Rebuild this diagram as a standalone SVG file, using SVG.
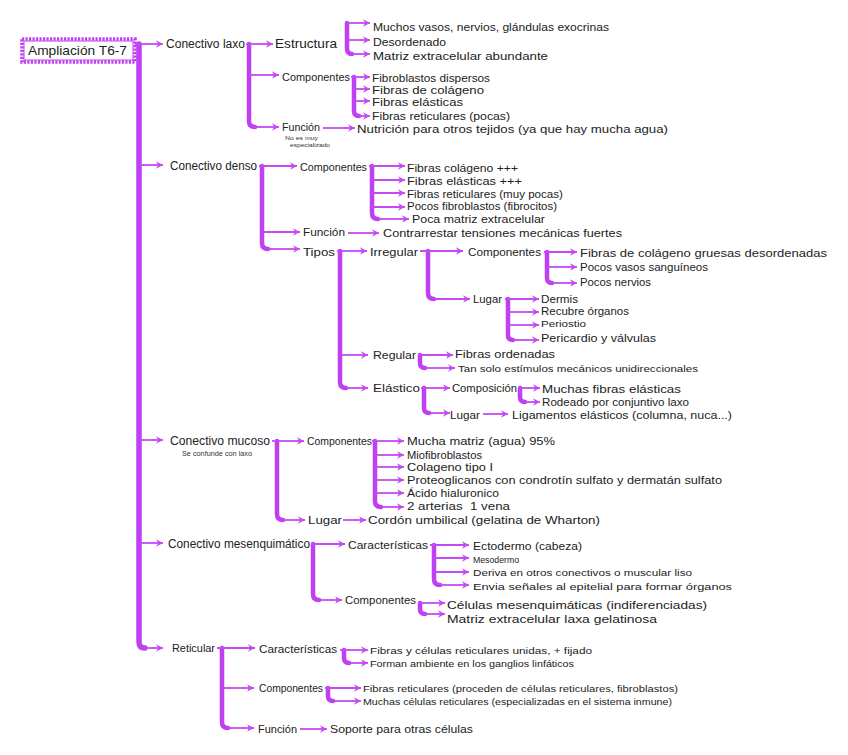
<svg xmlns="http://www.w3.org/2000/svg" width="848" height="755" viewBox="0 0 848 755">
<defs>
<marker id="ah" markerUnits="userSpaceOnUse" markerWidth="9" markerHeight="9" refX="7" refY="4" orient="auto">
<path d="M0,0.3 L7,4 L0,7.7 L2.2,4 z" fill="#c44af2"/>
</marker>
<style>
text{font-family:"Liberation Sans",Arial,sans-serif;font-size:10.5px;fill:#222;}
.lb{font-size:11.5px;}
.l1{font-size:12px;}
.xs{font-size:9.5px;}
.tiny{font-size:6px;fill:#333;}
.title{font-size:13px;}
.bar{stroke:#bf3ff3;stroke-width:4.5;fill:none;stroke-linecap:round;}
.main{stroke-width:5.5;}
.arr{stroke:#c44af2;stroke-width:1.8;fill:none;marker-end:url(#ah);}
</style>
</defs>
<rect width="848" height="755" fill="#fff"/>
<g id="connectors">
<path class="bar main" d="M139,44 V642 Q139,648 145,648"/>
<path class="arr" d="M135,44 H163"/><path class="arr" d="M139,165 H163"/><path class="arr" d="M139,440 H163"/><path class="arr" d="M139,543 H163"/><path class="arr" d="M145,648 H163"/>
<path class="bar" d="M249,44 V121 Q249,127 255,127"/>
<path class="arr" d="M246,44 H273"/><path class="arr" d="M249,75 H279"/><path class="arr" d="M255,127 H279"/>
<path class="bar" d="M347,23 V48 Q347,54 352,54"/>
<path class="arr" d="M347,23 H370"/><path class="arr" d="M347,40 H370"/><path class="arr" d="M352,54 H370"/>
<path class="bar" d="M354,77 V111 Q354,116 359,116"/>
<path class="arr" d="M351,77 H370"/><path class="arr" d="M354,89 H370"/><path class="arr" d="M354,101 H370"/><path class="arr" d="M359,116 H370"/>
<path class="arr" d="M323,128 H355"/>
<path class="bar" d="M262,166 V243 Q262,249 268,249"/>
<path class="arr" d="M259,166 H297"/><path class="arr" d="M262,232 H300"/><path class="arr" d="M268,249 H300"/>
<path class="bar" d="M372,166 V213 Q372,219 378,219"/>
<path class="arr" d="M369,166 H405"/><path class="arr" d="M372,180 H405"/><path class="arr" d="M372,193 H405"/><path class="arr" d="M372,207 H405"/><path class="arr" d="M378,219 H409"/>
<path class="arr" d="M348,233 H379"/>
<path class="bar" d="M340,251 V382 Q340,388 346,388"/>
<path class="arr" d="M337,251 H367"/><path class="arr" d="M340,355 H368"/><path class="arr" d="M346,388 H368"/>
<path class="bar" d="M428,251 V293 Q428,299 434,299"/>
<path class="arr" d="M420,251 H463"/><path class="arr" d="M434,299 H470"/>
<path class="bar" d="M547,252 V278 Q547,283 552,283"/>
<path class="arr" d="M544,252 H577"/><path class="arr" d="M547,267 H577"/><path class="arr" d="M552,283 H577"/>
<path class="bar" d="M508,299 V335 Q508,340 513,340"/>
<path class="arr" d="M505,299 H539"/><path class="arr" d="M508,312 H539"/><path class="arr" d="M508,325 H539"/><path class="arr" d="M513,340 H539"/>
<path class="bar" d="M420,355 V363 Q420,368 425,368"/>
<path class="arr" d="M418,355 H453"/><path class="arr" d="M425,368 H455"/>
<path class="bar" d="M424,388 V408 Q424,413 429,413"/>
<path class="arr" d="M421,388 H450"/><path class="arr" d="M429,413 H450"/>
<path class="bar" d="M520,388 V397 Q520,402 525,402"/>
<path class="arr" d="M518,388 H540"/><path class="arr" d="M525,402 H540"/>
<path class="arr" d="M483,414 H508"/>
<path class="bar" d="M277,441 V514 Q277,520 283,520"/>
<path class="arr" d="M272,441 H304"/><path class="arr" d="M283,520 H305"/>
<path class="bar" d="M375,441 V501 Q375,507 381,507"/>
<path class="arr" d="M372,441 H404"/><path class="arr" d="M375,455 H404"/><path class="arr" d="M375,467 H404"/><path class="arr" d="M375,480 H404"/><path class="arr" d="M375,493 H404"/><path class="arr" d="M381,507 H404"/>
<path class="arr" d="M343,520 H366"/>
<path class="bar" d="M313,544 V594 Q313,600 319,600"/>
<path class="arr" d="M311,544 H345"/><path class="arr" d="M319,600 H342"/>
<path class="bar" d="M434,545 V579 Q434,585 440,585"/>
<path class="arr" d="M430,545 H469"/><path class="arr" d="M434,558 H469"/><path class="arr" d="M434,572 H469"/><path class="arr" d="M440,585 H469"/>
<path class="bar" d="M420,603 V609 Q420,614 425,614"/>
<path class="arr" d="M418,603 H445"/><path class="arr" d="M425,614 H445"/>
<path class="bar" d="M222,648 V722 Q222,728 228,728"/>
<path class="arr" d="M217,648 H255"/><path class="arr" d="M222,688 H254"/><path class="arr" d="M228,728 H254"/>
<path class="bar" d="M344,650 V658 Q344,663 349,663"/>
<path class="arr" d="M340,650 H368"/><path class="arr" d="M349,663 H368"/>
<path class="bar" d="M328,688 V696 Q328,701 333,701"/>
<path class="arr" d="M325,688 H361"/><path class="arr" d="M333,701 H361"/>
<path class="arr" d="M300,729 H327"/>
</g>
<g id="n-title">
<rect x="22" y="39" width="113" height="23" fill="#fff" stroke="#c040f0" stroke-width="3.5" stroke-dasharray="2.2 1.3"/>
<rect x="24" y="41" width="109" height="19" fill="none" stroke="#c040f0" stroke-width="1"/>
<text class="title" x="28" y="55" textLength="99" lengthAdjust="spacingAndGlyphs">Ampliación T6-7</text>
</g>
<g id="n-laxo"><text class="l1" x="166" y="48" textLength="79" lengthAdjust="spacingAndGlyphs">Conectivo laxo</text></g>
<g id="n-laxo-estructura"><text class="l1" x="275" y="48" textLength="62" lengthAdjust="spacingAndGlyphs">Estructura</text></g>
<g id="n-laxo-componentes"><text class="lb" x="282" y="81" textLength="68" lengthAdjust="spacingAndGlyphs">Componentes</text></g>
<g id="n-laxo-funcion"><text class="lb" x="282" y="131" textLength="38" lengthAdjust="spacingAndGlyphs">Función</text>
<text class="tiny" x="285" y="139.5" textLength="33" lengthAdjust="spacingAndGlyphs">No es muy</text>
<text class="tiny" x="290" y="147" textLength="40" lengthAdjust="spacingAndGlyphs">especializado</text></g>
<g id="n-e1"><text x="373" y="31" textLength="236" lengthAdjust="spacingAndGlyphs">Muchos vasos, nervios, glándulas exocrinas</text></g>
<g id="n-e2"><text x="373" y="46" textLength="73" lengthAdjust="spacingAndGlyphs">Desordenado</text></g>
<g id="n-e3"><text x="373" y="60" textLength="175" lengthAdjust="spacingAndGlyphs">Matriz extracelular abundante</text></g>
<g id="n-c1"><text x="372" y="82" textLength="118" lengthAdjust="spacingAndGlyphs">Fibroblastos dispersos</text></g>
<g id="n-c2"><text x="372" y="94" textLength="112" lengthAdjust="spacingAndGlyphs">Fibras de colágeno</text></g>
<g id="n-c3"><text x="372" y="106" textLength="91" lengthAdjust="spacingAndGlyphs">Fibras elásticas</text></g>
<g id="n-c4"><text x="372" y="120" textLength="138" lengthAdjust="spacingAndGlyphs">Fibras reticulares (pocas)</text></g>
<g id="n-f1"><text class="lb" x="357" y="133" textLength="311" lengthAdjust="spacingAndGlyphs">Nutrición para otros tejidos (ya que hay mucha agua)</text></g>
<g id="n-denso"><text class="l1" x="170" y="170" textLength="87" lengthAdjust="spacingAndGlyphs">Conectivo denso</text></g>
<g id="n-denso-componentes"><text class="lb" x="300" y="171" textLength="67" lengthAdjust="spacingAndGlyphs">Componentes</text></g>
<g id="n-d1"><text x="407" y="172" textLength="111" lengthAdjust="spacingAndGlyphs">Fibras colágeno +++</text></g>
<g id="n-d2"><text x="407" y="185" textLength="115" lengthAdjust="spacingAndGlyphs">Fibras elásticas +++</text></g>
<g id="n-d3"><text x="407" y="198" textLength="156" lengthAdjust="spacingAndGlyphs">Fibras reticulares (muy pocas)</text></g>
<g id="n-d4"><text x="407" y="210" textLength="150" lengthAdjust="spacingAndGlyphs">Pocos fibroblastos (fibrocitos)</text></g>
<g id="n-d5"><text x="412" y="223" textLength="133" lengthAdjust="spacingAndGlyphs">Poca matriz extracelular</text></g>
<g id="n-denso-funcion"><text class="lb" x="303" y="236" textLength="42" lengthAdjust="spacingAndGlyphs">Función</text></g>
<g id="n-df"><text class="lb" x="383" y="237" textLength="239" lengthAdjust="spacingAndGlyphs">Contrarrestar tensiones mecánicas fuertes</text></g>
<g id="n-tipos"><text class="lb" x="303" y="256" textLength="32" lengthAdjust="spacingAndGlyphs">Tipos</text></g>
<g id="n-irregular"><text class="lb" x="370" y="256" textLength="48" lengthAdjust="spacingAndGlyphs">Irregular</text></g>
<g id="n-irr-componentes"><text class="lb" x="468" y="256" textLength="73" lengthAdjust="spacingAndGlyphs">Componentes</text></g>
<g id="n-ic1"><text x="580" y="257" textLength="247" lengthAdjust="spacingAndGlyphs">Fibras de colágeno gruesas desordenadas</text></g>
<g id="n-ic2"><text x="580" y="271" textLength="128" lengthAdjust="spacingAndGlyphs">Pocos vasos sanguíneos</text></g>
<g id="n-ic3"><text x="580" y="286" textLength="71" lengthAdjust="spacingAndGlyphs">Pocos nervios</text></g>
<g id="n-irr-lugar"><text class="lb" x="473" y="303" textLength="29" lengthAdjust="spacingAndGlyphs">Lugar</text></g>
<g id="n-il1"><text x="541" y="303" textLength="37" lengthAdjust="spacingAndGlyphs">Dermis</text></g>
<g id="n-il2"><text x="541" y="315" textLength="88" lengthAdjust="spacingAndGlyphs">Recubre órganos</text></g>
<g id="n-il3"><text class="xs" x="541" y="327" textLength="45" lengthAdjust="spacingAndGlyphs">Periostio</text></g>
<g id="n-il4"><text x="541" y="342" textLength="115" lengthAdjust="spacingAndGlyphs">Pericardio y válvulas</text></g>
<g id="n-regular"><text class="lb" x="373" y="359" textLength="43" lengthAdjust="spacingAndGlyphs">Regular</text></g>
<g id="n-r1"><text x="455" y="358" textLength="100" lengthAdjust="spacingAndGlyphs">Fibras ordenadas</text></g>
<g id="n-r2"><text class="xs" x="458" y="372" textLength="240" lengthAdjust="spacingAndGlyphs">Tan solo estímulos mecánicos unidireccionales</text></g>
<g id="n-elastico"><text class="lb" x="373" y="392" textLength="47" lengthAdjust="spacingAndGlyphs">Elástico</text></g>
<g id="n-composicion"><text class="lb" x="452" y="392" textLength="65" lengthAdjust="spacingAndGlyphs">Composición</text></g>
<g id="n-co1"><text x="542" y="393" textLength="139" lengthAdjust="spacingAndGlyphs">Muchas fibras elásticas</text></g>
<g id="n-co2"><text x="542" y="406" textLength="147" lengthAdjust="spacingAndGlyphs">Rodeado por conjuntivo laxo</text></g>
<g id="n-el-lugar"><text class="lb" x="450" y="419" textLength="30" lengthAdjust="spacingAndGlyphs">Lugar</text></g>
<g id="n-ell"><text x="512" y="419" textLength="220" lengthAdjust="spacingAndGlyphs">Ligamentos elásticos (columna, nuca...)</text></g>
<g id="n-mucoso"><text class="l1" x="170" y="445" textLength="100" lengthAdjust="spacingAndGlyphs">Conectivo mucoso</text>
<text class="tiny" x="182" y="456" textLength="70" lengthAdjust="spacingAndGlyphs" style="font-size:6.5px">Se confunde con laxo</text></g>
<g id="n-muc-componentes"><text class="lb" x="307" y="445" textLength="65" lengthAdjust="spacingAndGlyphs">Componentes</text></g>
<g id="n-m1"><text x="407" y="445" textLength="148" lengthAdjust="spacingAndGlyphs">Mucha matriz (agua) 95%</text></g>
<g id="n-m2"><text x="407" y="459" textLength="75" lengthAdjust="spacingAndGlyphs">Miofibroblastos</text></g>
<g id="n-m3"><text x="407" y="471" textLength="86" lengthAdjust="spacingAndGlyphs">Colageno tipo I</text></g>
<g id="n-m4"><text x="407" y="484" textLength="315" lengthAdjust="spacingAndGlyphs">Proteoglicanos con condrotín sulfato y dermatán sulfato</text></g>
<g id="n-m5"><text x="407" y="497" textLength="92" lengthAdjust="spacingAndGlyphs">Ácido hialuronico</text></g>
<g id="n-m6"><text x="407" y="510" textLength="103" lengthAdjust="spacingAndGlyphs" xml:space="preserve">2 arterias  1 vena</text></g>
<g id="n-muc-lugar"><text class="lb" x="308" y="524" textLength="34" lengthAdjust="spacingAndGlyphs">Lugar</text></g>
<g id="n-ml"><text class="lb" x="368" y="524" textLength="232" lengthAdjust="spacingAndGlyphs">Cordón umbilical (gelatina de Wharton)</text></g>
<g id="n-mes"><text class="l1" x="168" y="548" textLength="142" lengthAdjust="spacingAndGlyphs">Conectivo mesenquimático</text></g>
<g id="n-mes-caracteristicas"><text class="lb" x="348" y="549" textLength="80" lengthAdjust="spacingAndGlyphs">Características</text></g>
<g id="n-mc1"><text x="473" y="550" textLength="109" lengthAdjust="spacingAndGlyphs">Ectodermo (cabeza)</text></g>
<g id="n-mc2"><text class="xs" x="473" y="563" textLength="46" lengthAdjust="spacingAndGlyphs">Mesodermo</text></g>
<g id="n-mc3"><text class="xs" x="473" y="576" textLength="219" lengthAdjust="spacingAndGlyphs">Deriva en otros conectivos o muscular liso</text></g>
<g id="n-mc4"><text class="xs" x="473" y="590" textLength="259" lengthAdjust="spacingAndGlyphs">Envia señales al epitelial para formar órganos</text></g>
<g id="n-mes-componentes"><text class="lb" x="345" y="604" textLength="71" lengthAdjust="spacingAndGlyphs">Componentes</text></g>
<g id="n-mp1"><text x="447" y="609" textLength="260" lengthAdjust="spacingAndGlyphs">Células mesenquimáticas (indiferenciadas)</text></g>
<g id="n-mp2"><text x="447" y="623" textLength="210" lengthAdjust="spacingAndGlyphs">Matriz extracelular laxa gelatinosa</text></g>
<g id="n-reticular"><text class="lb" x="172" y="652" textLength="43" lengthAdjust="spacingAndGlyphs">Reticular</text></g>
<g id="n-ret-caracteristicas"><text class="lb" x="259" y="653" textLength="78" lengthAdjust="spacingAndGlyphs">Características</text></g>
<g id="n-rc1"><text class="xs" x="370" y="654" textLength="222" lengthAdjust="spacingAndGlyphs">Fibras y células reticulares unidas, + fijado</text></g>
<g id="n-rc2"><text class="xs" x="370" y="667" textLength="204" lengthAdjust="spacingAndGlyphs">Forman ambiente en los ganglios linfáticos</text></g>
<g id="n-ret-componentes"><text class="lb" x="259" y="692" textLength="64" lengthAdjust="spacingAndGlyphs">Componentes</text></g>
<g id="n-rp1"><text class="xs" x="363" y="692" textLength="315" lengthAdjust="spacingAndGlyphs">Fibras reticulares (proceden de células reticulares, fibroblastos)</text></g>
<g id="n-rp2"><text class="xs" x="363" y="705" textLength="309" lengthAdjust="spacingAndGlyphs">Muchas células reticulares (especializadas en el sistema inmune)</text></g>
<g id="n-ret-funcion"><text class="lb" x="258" y="733" textLength="39" lengthAdjust="spacingAndGlyphs">Función</text></g>
<g id="n-rf"><text x="330" y="733" textLength="143" lengthAdjust="spacingAndGlyphs">Soporte para otras células</text></g>
</svg>
